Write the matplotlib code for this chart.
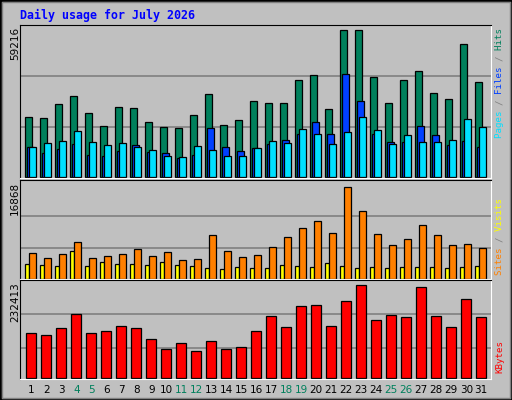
import numpy as np
import matplotlib
matplotlib.use("Agg")
import matplotlib.pyplot as plt
from matplotlib.patches import Rectangle

days = np.arange(1, 32)
weekend = [4, 5, 11, 12, 18, 19, 25, 26]

hits = [24254, 23450, 29480, 32696, 25862, 20234, 28274, 27872, 21842, 19832, 19430,
        25058, 33500, 20636, 22646, 30686, 29882, 29882, 39128, 41138, 27470, 59216,
        59216, 40334, 29882, 39128, 42746, 33902, 31490, 53600, 38324]
files = [11792, 9380, 10988, 12998, 8576, 8174, 10184, 12596, 9782, 9380, 7370,
         8576, 19430, 11792, 10184, 11390, 12998, 14606, 17018, 21842, 17018, 41540,
         30686, 17018, 13802, 13802, 20234, 16616, 12596, 14204, 11792]
pages = [11792, 13400, 14204, 18224, 13802, 12596, 13400, 11792, 10586, 8174, 7772,
         12194, 10586, 8174, 8174, 11390, 14204, 13400, 19028, 17018, 12998, 17822,
         24254, 18626, 12998, 16616, 13802, 13802, 14606, 23048, 19832]
visits = [4628, 3715, 4446, 6638, 3715, 4080, 4446, 5359, 4080, 4811, 3350, 3532,
          7917, 4994, 3898, 4263, 5725, 7552, 9196, 10475, 8282, 16868, 12485, 8100,
          6090, 7186, 9744, 7917, 6090, 6273, 5542]
sites = [2619, 2436, 2253, 4994, 2253, 2984, 2619, 2619, 2436, 2984, 2436, 2253,
         1888, 1705, 2071, 1888, 1888, 2436, 2253, 2071, 2801, 2253, 1888, 2071,
         1888, 2071, 2071, 2071, 1888, 2071, 2253]
kbytes = [112784, 107696, 125504, 158576, 112784, 117872, 130592, 125504, 97520,
          72080, 87344, 66992, 92432, 72080, 77168, 117872, 153488, 128048, 178928,
          181472, 130592, 191648, 232413, 143312, 156032, 150944, 227264, 153488,
          128048, 196736, 150944]

BG = "#C0C0C0"
W, H = 512, 400
fig = plt.figure(figsize=(5.12, 4), dpi=100, facecolor=BG)
fig.patches.append(Rectangle((0, 0), 1, 1, transform=fig.transFigure, fill=False,
                             edgecolor="black", lw=2))
fig.patches.append(Rectangle((2/W, 2/H), 1-4/W, 1-4/H, transform=fig.transFigure,
                             fill=False, edgecolor="#808080", lw=1))

mono = "DejaVu Sans Mono"
fig.text(20/W, 1-15/H, "Daily usage for July 2026", color="#0000FF", family=mono,
         weight="bold", fontsize=8.4, va="center")


def panel(top, bot):
    ax = fig.add_axes([20/W, 1-bot/H, 471/W, (bot-top)/H])
    ax.set_facecolor(BG)
    ax.set_xlim(0.28, 31.68)
    ax.set_xticks([])
    ax.set_yticks([])
    for s in ("left", "top"):
        ax.spines[s].set_color("black")
    for s in ("right", "bottom"):
        ax.spines[s].set_color("white")
    return ax


def grid(ax, vmax, fracs):
    for f in fracs:
        ax.axhline(vmax*f, color="#808080", lw=1.2, zorder=0)


def side_label(ytop, parts):
    full = "".join(p for p, _ in parts)
    pos = 0
    for p, c in parts:
        s = " "*pos + p + " "*(len(full)-pos-len(p))
        pos += len(p)
        fig.text(500/W, 1-ytop/H, s, rotation=90, family=mono, fontsize=6.6,
                 color=c, va="top", ha="center")


bk = dict(edgecolor="black", linewidth=0.9, align="edge")

# hits / files / pages
ax1 = panel(25, 178)
m = max(hits)
ax1.set_ylim(-m*0.01, m*152/147)
grid(ax1, m, [0.337, 0.684])
ax1.bar(days-0.367, hits, 0.467, color="#00805C", **bk)
ax1.bar(days-0.233, files, 0.467, color="#0040FF", **bk)
ax1.bar(days-0.1, pages, 0.467, color="#00E0FF", **bk)
fig.text(15/W, 1-27/H, str(max(hits)), rotation=90, family="DejaVu Sans",
         fontsize=7.5, va="top", ha="center")
side_label(28, [("Pages", "#00E0FF"), (" / ", "#808080"), ("Files", "#0040FF"),
                (" / ", "#808080"), ("Hits", "#00805C")])

# sites / visits
ax2 = panel(180, 279)
m = max(visits)
ax2.set_ylim(-m*0.005, m*99/92.3)
grid(ax2, m, [0.332, 0.686])
ax2.bar(days-0.367, sites, 0.267, color="#FFFF00", **bk)
ax2.bar(days-0.1, visits, 0.467, color="#FF8000", **bk)
fig.text(15/W, 1-182/H, str(max(visits)), rotation=90, family="DejaVu Sans",
         fontsize=7.5, va="top", ha="center")
side_label(198, [("Sites", "#FF8000"), (" / ", "#808080"), ("Visits", "#FFFF00")])

# kbytes
ax3 = panel(280, 379)
m = max(kbytes)
ax3.set_ylim(-m*0.012, m*96/91.3)
grid(ax3, m, [0.325, 0.682])
ax3.bar(days-0.3, kbytes, 0.667, color="#FF0000", **bk)
fig.text(15/W, 1-282/H, str(max(kbytes)), rotation=90, family="DejaVu Sans",
         fontsize=7.5, va="top", ha="center")
side_label(340, [("KBytes", "#FF0000")])

for d in days:
    c = "#00805C" if d in weekend else "black"
    ax3.text(d + 0.03, -0.11, str(d), transform=ax3.get_xaxis_transform(),
             ha="center", va="center", fontsize=7.5, color=c)

fig.savefig("out.png", dpi=100, facecolor=BG)
